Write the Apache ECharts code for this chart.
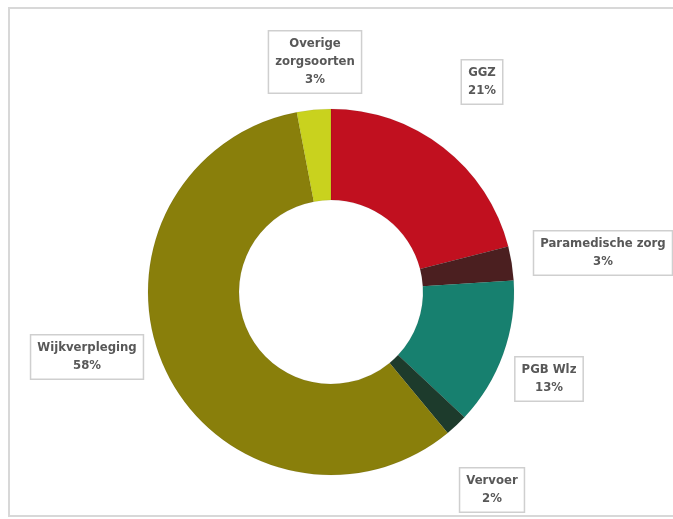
<!DOCTYPE html>
<html>
<head>
<meta charset="utf-8">
<script src="https://cdn.jsdelivr.net/npm/echarts@6/dist/echarts.min.js"></script>
<style>
html,body{margin:0;padding:0;background:#fff;}
#c{width:673px;height:519px;}
</style>
</head>
<body>
<div id="c"></div>
<script>
const categories = ['GGZ', 'Paramedische zorg', 'PGB Wlz', 'Vervoer', 'Wijkverpleging', 'Overige\nzorgsoorten'];
const values = [21, 3, 13, 2, 58, 3];
const percentLabels = ['21%', '3%', '13%', '2%', '58%', '3%'];
const colors = ['#c1101f', '#4b1f20', '#17806f', '#1d3b2c', '#897f0b', '#c9d21e'];
const labelCenters = [[482, 82], [603, 253], [549, 379], [492, 490], [87, 357], [315, 62]];

const chart = echarts.init(document.getElementById('c'), null, {renderer: 'canvas'});
const data = categories.map((n, i) => ({
  name: n, value: values[i], pct: percentLabels[i],
  itemStyle: {color: colors[i]}
}));
chart.setOption({
  animation: false,
  graphic: [{
    type: 'rect', shape: {x: 9, y: 8, width: 700, height: 508},
    style: {fill: 'none', stroke: '#d8d8d8', lineWidth: 2}, silent: true, z: -1
  }],
  series: [{
    type: 'pie',
    center: [331, 292],
    radius: [92, 183],
    startAngle: 90,
    clockwise: true,
    data: data,
    itemStyle: {borderColor: 'rgba(0,0,0,0.12)', borderWidth: 0.5},
    label: {
      show: true,
      position: 'inside',
      formatter: p => p.name + '\n' + p.data.pct,
      fontFamily: '"DejaVu Sans Condensed", "Liberation Sans Narrow", sans-serif',
      fontWeight: 'bold',
      fontSize: 13,
      lineHeight: 18,
      color: '#585858',
      align: 'center',
      verticalAlign: 'middle',
      backgroundColor: '#fff',
      borderColor: '#cfcfcf',
      borderWidth: 1.5,
      padding: [4, 6, 3, 6]
    },
    labelLine: {show: false},
    labelLayout: function (params) {
      const c = labelCenters[params.dataIndex];
      return {x: c[0], y: c[1], align: 'center', verticalAlign: 'middle'};
    }
  }]
});
</script>
</body>
</html>
